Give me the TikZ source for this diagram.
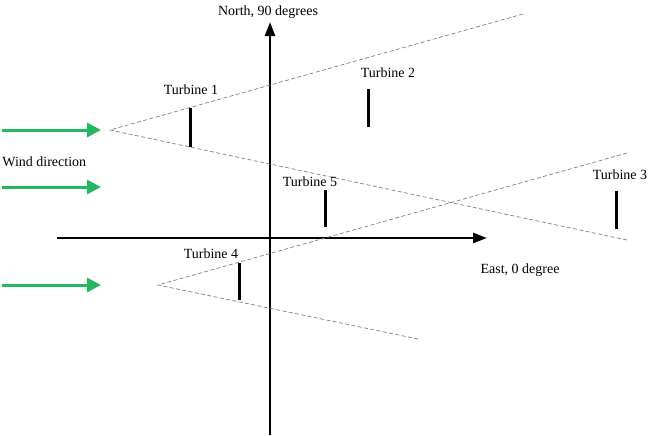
\documentclass[tikz,border=0pt]{standalone}
\usepackage{fontspec}
\setmainfont{Liberation Serif}
\usetikzlibrary{arrows.meta}
\definecolor{windgreen}{RGB}{34,184,96}

\begin{document}
\begin{tikzpicture}[
  x=0.5pt, y=-0.5pt,
  font=\fontsize{7}{8}\selectfont,
  axis/.style    = {line width=1.3pt, -{Triangle[length=7pt,width=5pt]}},
  wind/.style    = {windgreen, line width=1.5pt, -{Triangle[length=7pt,width=7pt]}},
  wake/.style    = {gray, line width=0.35pt, dash pattern=on 2pt off 1.2pt},
  turbine/.style = {line width=1.5pt},
  lbl/.style     = {inner sep=1pt},
]
  \useasboundingbox (0,0) rectangle (656,435);

  % axes
  \coordinate (south) at (270,435);
  \coordinate (north) at (270,22);
  \coordinate (west) at (57,238);
  \coordinate (east) at (487,238);
  \draw[axis] (south) -- (north);
  \draw[axis] (west) -- (east);
  \node[lbl] (northlbl) at (268,12) {North, 90 degrees};
  \node[lbl] (eastlbl) at (520,270) {East, 0 degree};

  % wind arrows
  \coordinate (w1a) at (2,130);   \coordinate (w1b) at (101,130);
  \coordinate (w2a) at (2,187);   \coordinate (w2b) at (101,187);
  \coordinate (w3a) at (2,285);   \coordinate (w3b) at (101,285);
  \draw[wind] (w1a) -- (w1b);
  \draw[wind] (w2a) -- (w2b);
  \draw[wind] (w3a) -- (w3b);
  \node[lbl, anchor=west] (windlbl) at (0,162) {Wind direction};

  % wake cones
  \coordinate (apexA) at (110,130);
  \coordinate (upA) at (523,14);
  \coordinate (lowA) at (627,240);
  \draw[wake] (upA) -- (apexA) -- (lowA);
  \coordinate (apexB) at (158,285);
  \coordinate (upB) at (627,153);
  \coordinate (lowB) at (418,339);
  \draw[wake] (upB) -- (apexB) -- (lowB);

  % turbines
  \coordinate (t1a) at (190,108); \coordinate (t1b) at (190,147);
  \coordinate (t2a) at (368,89);  \coordinate (t2b) at (368,127);
  \coordinate (t3a) at (616,191); \coordinate (t3b) at (616,229);
  \coordinate (t4a) at (239,263); \coordinate (t4b) at (239,300);
  \coordinate (t5a) at (325,190); \coordinate (t5b) at (325,227);
  \draw[turbine] (t1a) -- (t1b);
  \draw[turbine] (t2a) -- (t2b);
  \draw[turbine] (t3a) -- (t3b);
  \draw[turbine] (t4a) -- (t4b);
  \draw[turbine] (t5a) -- (t5b);
  \node[lbl] (t1lbl) at (191,90) {Turbine 1};
  \node[lbl] (t2lbl) at (388,73) {Turbine 2};
  \node[lbl] (t3lbl) at (620,175) {Turbine 3};
  \node[lbl] (t4lbl) at (211,254) {Turbine 4};
  \node[lbl] (t5lbl) at (310,182) {Turbine 5};
\end{tikzpicture}
\end{document}
